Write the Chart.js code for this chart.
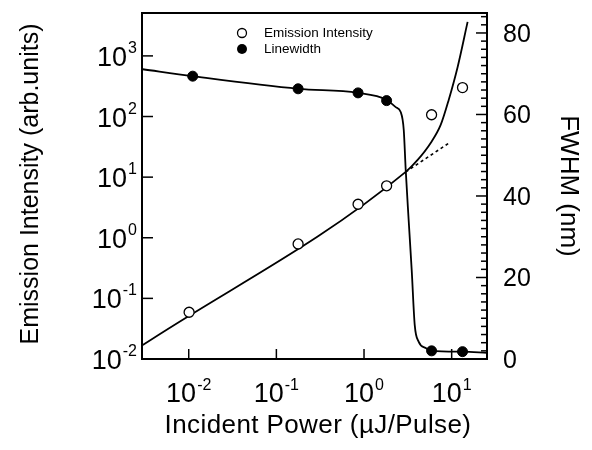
<!DOCTYPE html>
<html><head><meta charset="utf-8">
<script src="https://cdn.jsdelivr.net/npm/chart.js@4.4.0/dist/chart.umd.min.js"></script>
<style>html,body{margin:0;padding:0;background:#fff}canvas{display:block}</style>
</head><body><canvas id="c" width="592" height="450"></canvas>
<script>
// ---- data ----
const emissionPower = [0.0101, 0.177, 0.855, 1.81, 5.9, 13.3];
const emissionIntensity = [0.059, 0.79, 3.57, 7.2, 107, 300];
const linewidthPower = [0.0111, 0.177, 0.855, 1.81, 5.9, 13.3];
const linewidthFWHM = [69.4, 66.3, 65.3, 63.4, 2.0, 1.8];
const emissionFitPower = [0.00299, 2.99, 4.09, 5.76, 7.49, 9.25, 11.7, 15.2];
const emissionFitValue = [0.017, 12.2, 19.2, 36.6, 72.6, 188, 658, 3640];
const emissionTrendPower = [2.99, 9.74];
const emissionTrendValue = [12.2, 38.1];
const linewidthFitPower = [0.00299, 0.0111, 0.179, 0.848, 1.81, 2.30, 2.62, 2.84, 2.99, 3.23, 3.50, 3.79, 4.21, 5.05, 5.91, 13.3, 25.3];
const linewidthFitValue = [71.1, 69.4, 66.3, 65.3, 63.6, 61.8, 60.6, 56.2, 46.4, 34.1, 21.8, 8.3, 4.2, 2.7, 2.0, 1.8, 1.5];
const xTickValues = [0.01, 0.1, 1, 10];
const xTickExponents = ['-2', '-1', '0', '1'];
const yTickValues = [0.01, 0.1, 1, 10, 100, 1000];
const yTickExponents = ['-2', '-1', '0', '1', '2', '3'];
const y2TickValues = [0, 20, 40, 60, 80];
const y2MinorStep = 2;
const seriesLabels = ['Emission Intensity', 'Linewidth'];
const axisTitles = {x: 'Incident Power (\u00b5J/Pulse)', y: 'Emission Intensity (arb.units)', y2: 'FWHM (nm)'};

const pts = (xs, ys) => xs.map((v, i) => ({x: v, y: ys[i]}));
const FONT = '"Liberation Sans", Arial, Helvetica, sans-serif';

const axesPlugin = {
  id: 'axesPlugin',
  afterDatasetsDraw(chart) {
    const {ctx, chartArea: a, scales: {x, y, y2}} = chart;
    ctx.save();
    ctx.strokeStyle = '#000'; ctx.fillStyle = '#000';
    const line = (x1, y1, x2, y2_) => { ctx.beginPath(); ctx.moveTo(x1, y1); ctx.lineTo(x2, y2_); ctx.stroke(); };
    ctx.lineWidth = 2;
    ctx.strokeRect(a.left, a.top, a.right - a.left, a.bottom - a.top);
    ctx.lineWidth = 1.5;
    xTickValues.forEach(v => { const p = x.getPixelForValue(v); line(p, a.bottom, p, a.bottom - 10); });
    yTickValues.forEach(v => { const p = y.getPixelForValue(v); line(a.left, p, a.left + 11, p); });
    for (let v = 0; v <= y2.max; v += y2MinorStep) {
      const p = y2.getPixelForValue(v);
      const len = y2TickValues.includes(v) ? 11 : 6;
      line(a.right - len, p, a.right, p);
    }
    // x tick labels
    ctx.textBaseline = 'alphabetic';
    xTickValues.forEach((v, i) => {
      const p = x.getPixelForValue(v);
      ctx.font = '27px ' + FONT; const w1 = ctx.measureText('10').width;
      ctx.font = '16px ' + FONT; const w2 = ctx.measureText(xTickExponents[i]).width;
      const s = p - (w1 + w2 + 1) / 2;
      ctx.font = '27px ' + FONT; ctx.textAlign = 'left'; ctx.fillText('10', s, 402);
      ctx.font = '16px ' + FONT; ctx.fillText(xTickExponents[i], s + w1 + 1, 390);
    });
    // y tick labels (whole label right-aligned)
    yTickValues.forEach((v, i) => {
      const p = y.getPixelForValue(v);
      ctx.font = '16px ' + FONT; const w2 = ctx.measureText(yTickExponents[i]).width;
      const e = 137 - w2;
      ctx.textAlign = 'left'; ctx.fillText(yTickExponents[i], e, p - 3);
      ctx.font = '27px ' + FONT; ctx.textAlign = 'right'; ctx.fillText('10', e - 1, p + 10);
    });
    // y2 tick labels
    ctx.font = '25px ' + FONT; ctx.textAlign = 'left';
    y2TickValues.forEach(v => { const p = y2.getPixelForValue(v); ctx.fillText(String(v), 503, p + 9); });
    // titles
    ctx.font = '26px ' + FONT; ctx.textAlign = 'center';
    ctx.letterSpacing = '0.4px';
    ctx.fillText(axisTitles.x, 318, 433);
    ctx.letterSpacing = '0px';
    ctx.textBaseline = 'middle';
    ctx.font = '25px ' + FONT;
    ctx.save(); ctx.translate(31, 184); ctx.rotate(-Math.PI / 2); ctx.fillText(axisTitles.y, 0, 0); ctx.restore();
    ctx.font = '26px ' + FONT;
    ctx.save(); ctx.translate(568, 186); ctx.rotate(Math.PI / 2); ctx.fillText(axisTitles.y2, 0, 0); ctx.restore();
    // legend
    ctx.font = '13.5px ' + FONT; ctx.textAlign = 'left'; ctx.textBaseline = 'middle';
    ctx.lineWidth = 1.3;
    ctx.beginPath(); ctx.arc(242, 33, 4.5, 0, Math.PI * 2); ctx.fillStyle = '#fff'; ctx.fill(); ctx.stroke();
    ctx.fillStyle = '#000';
    ctx.fillText(seriesLabels[0], 264, 33);
    ctx.beginPath(); ctx.arc(242, 49, 5, 0, Math.PI * 2); ctx.fill();
    ctx.fillText(seriesLabels[1], 264, 49);
    ctx.restore();
  }
};

new Chart(document.getElementById('c'), {
  type: 'scatter',
  data: {
    datasets: [
      {label: seriesLabels[0], data: pts(emissionPower, emissionIntensity), yAxisID: 'y', order: 0,
       pointRadius: 5, pointBackgroundColor: '#fff', pointBorderColor: '#000', pointBorderWidth: 1.3, showLine: false},
      {label: seriesLabels[1], data: pts(linewidthPower, linewidthFWHM), yAxisID: 'y2', order: 0,
       pointRadius: 5, pointBackgroundColor: '#000', pointBorderColor: '#000', pointBorderWidth: 1, showLine: false},
      {label: 'emission fit', data: pts(emissionFitPower, emissionFitValue), yAxisID: 'y', order: 1,
       showLine: true, pointRadius: 0, borderColor: '#000', borderWidth: 1.8, cubicInterpolationMode: 'monotone'},
      {label: 'emission trend', data: pts(emissionTrendPower, emissionTrendValue), yAxisID: 'y', order: 1,
       showLine: true, pointRadius: 0, borderColor: '#000', borderWidth: 1.6, borderDash: [3, 3]},
      {label: 'linewidth fit', data: pts(linewidthFitPower, linewidthFitValue), yAxisID: 'y2', order: 1,
       showLine: true, pointRadius: 0, borderColor: '#000', borderWidth: 1.8, cubicInterpolationMode: 'monotone'}
    ]
  },
  options: {
    responsive: false, animation: false, devicePixelRatio: 1,
    layout: {padding: {left: 142, right: 105, top: 13, bottom: 91}},
    plugins: {legend: {display: false}, tooltip: {enabled: false}},
    scales: {
      x: {type: 'logarithmic', min: 0.00293, max: 25.3, display: false},
      y: {type: 'logarithmic', min: 0.01, max: 5100, display: false},
      y2: {type: 'linear', min: 0, max: 84.9, display: false, position: 'right'}
    }
  },
  plugins: [axesPlugin]
});
</script></body></html>
